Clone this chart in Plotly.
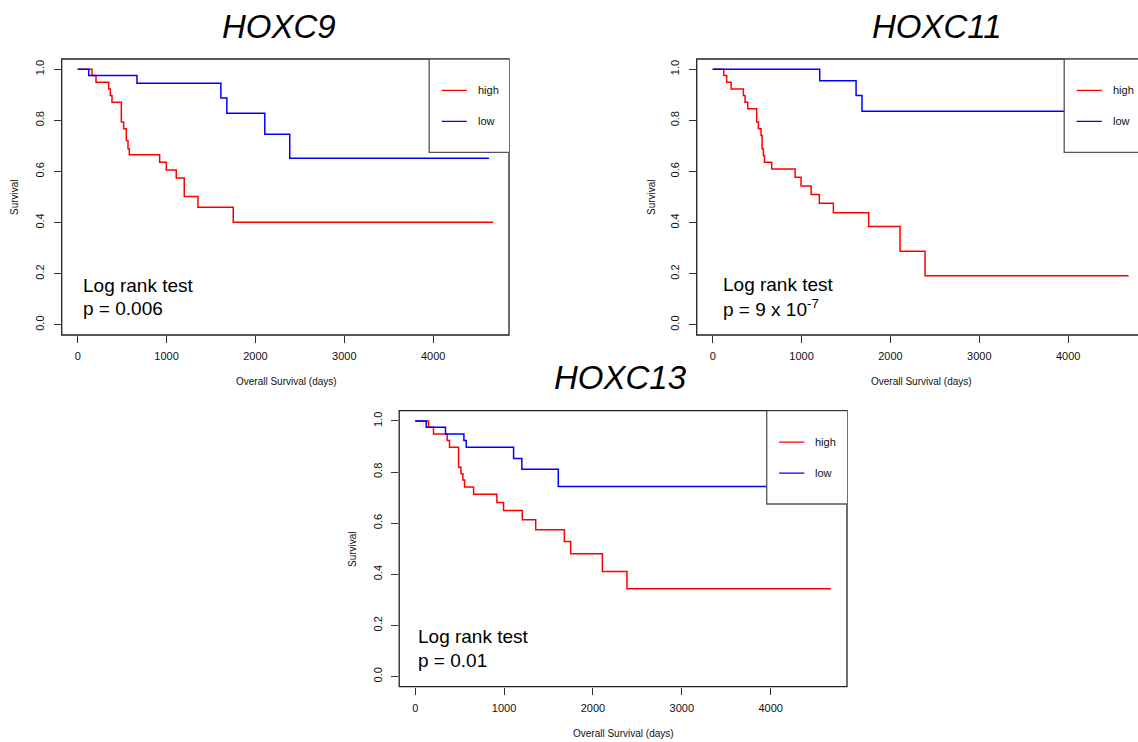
import plotly.graph_objects as go

W, H = 1138, 742

# ---------------- data (Kaplan-Meier steps) ----------------
hoxc9_high_t = [0, 161, 206, 349, 367, 386, 491, 517, 547, 566, 581, 922, 997, 1109, 1199, 1353, 1750, 4674]
hoxc9_high_s = [1.0, 0.975, 0.949, 0.923, 0.897, 0.871, 0.793, 0.767, 0.721, 0.689, 0.665, 0.636, 0.606, 0.574, 0.502, 0.460, 0.401, 0.401]
hoxc9_low_t = [0, 124, 667, 1611, 1678, 2105, 2386, 4628]
hoxc9_low_s = [1.0, 0.975, 0.945, 0.887, 0.828, 0.746, 0.652, 0.652]

hoxc11_high_t = [0, 124, 157, 207, 345, 364, 394, 495, 514, 544, 556, 570, 582, 664, 927, 994, 1107, 1200, 1358, 1755, 2108, 2389, 4680]
hoxc11_high_s = [1.0, 0.975, 0.949, 0.923, 0.897, 0.871, 0.845, 0.793, 0.767, 0.741, 0.689, 0.662, 0.636, 0.610, 0.577, 0.543, 0.510, 0.476, 0.438, 0.385, 0.288, 0.192, 0.192]
hoxc11_low_t = [0, 1204, 1613, 1680, 4650]
hoxc11_low_s = [1.0, 0.955, 0.897, 0.836, 0.836]

hoxc13_high_t = [0, 150, 206, 360, 386, 488, 515, 536, 555, 657, 919, 994, 1205, 1356, 1678, 1749, 2106, 2383, 4677]
hoxc13_high_s = [1.0, 0.975, 0.949, 0.923, 0.897, 0.819, 0.793, 0.769, 0.741, 0.713, 0.681, 0.649, 0.613, 0.574, 0.528, 0.480, 0.411, 0.343, 0.343]
hoxc13_low_t = [0, 124, 341, 548, 574, 1107, 1200, 1610, 4650]
hoxc13_low_s = [1.0, 0.975, 0.949, 0.923, 0.897, 0.853, 0.811, 0.743, 0.743]

gene_titles = ["HOXC9", "HOXC11", "HOXC13"]
p_texts = ["p = 0.006", "p = 9 x 10<sup>-7</sup>", "p = 0.01"]
group_names = ["high", "low"]
group_colors = ["#ff0000", "#0000ff"]
x_tickvals = [0, 1000, 2000, 3000, 4000]
y_tickvals = [0.0, 0.2, 0.4, 0.6, 0.8, 1.0]
y_ticktext = ["0.0", "0.2", "0.4", "0.6", "0.8", "1.0"]
x_label = "Overall Survival (days)"
y_label = "Survival"

# ---------------- layout geometry (window pixels) ----------------
FONT = "Liberation Sans, Arial, Helvetica, sans-serif"
scale = 447.5 / 5035.0  # px per day
XMIN = -180.0
panels = [
    dict(left=61.7, right=509.0, top=59.0, bottom=335.0),
    dict(left=696.7, right=1138.0, top=59.0, bottom=335.0),
    dict(left=399.2, right=847.0, top=410.7, bottom=686.7),
]
curves = [
    ((hoxc9_high_t, hoxc9_high_s), (hoxc9_low_t, hoxc9_low_s)),
    ((hoxc11_high_t, hoxc11_high_s), (hoxc11_low_t, hoxc11_low_s)),
    ((hoxc13_high_t, hoxc13_high_s), (hoxc13_low_t, hoxc13_low_s)),
]


def px(x):
    return x / W


def py(y):
    return 1 - y / H


fig = go.Figure()
annotations = []
shapes = []

title_pos = [(279, 26.0), (937, 26.0), (620, 377.5)]
log_pos = [(80.7, 290.7), (720.7, 290.2), (415.7, 642.4)]
xlab_pos = [(286, 381), (921, 381), (623, 733)]
ylab_pos = [(14, 197), (651, 197), (352, 549)]

for i, p in enumerate(panels):
    k = "" if i == 0 else str(i + 1)
    xa, ya = "x" + k, "y" + k
    xmax = XMIN + (p["right"] - p["left"]) / scale
    for (t, s), name, col in zip(curves[i], group_names, group_colors):
        fig.add_trace(go.Scatter(
            x=t, y=s, mode="lines", line=dict(color=col, width=1.5, shape="hv"),
            name=name, showlegend=False, xaxis=xa, yaxis=ya, hoverinfo="skip"))
    axcommon = dict(showgrid=False, zeroline=False, showline=False, ticks="outside",
                    ticklen=7, tickwidth=1, tickcolor="#333333",
                    tickfont=dict(family=FONT, size=11, color="#111111"))
    fig.layout["xaxis" + k] = dict(
        domain=[px(p["left"]), min(1.0, px(p["right"]))], range=[XMIN, xmax], anchor=ya,
        tickvals=x_tickvals, tickformat="d", ticklabelstandoff=4, **axcommon)
    fig.layout["yaxis" + k] = dict(
        domain=[py(p["bottom"]), py(p["top"])], range=[-0.04, 1.04], anchor=xa,
        tickvals=y_tickvals, ticktext=y_ticktext, tickangle=-90, ticklabelstandoff=5,
        **axcommon)

    # plot frame
    shapes.append(dict(type="rect", xref=xa + " domain", yref=ya + " domain",
                       x0=0, x1=1 if i != 1 else 1.2, y0=0, y1=1,
                       line=dict(color="#222222", width=1.3), layer="above"))
    # legend box (R "topright" style)
    shapes.append(dict(type="rect", xref=xa, yref=ya, x0=3955, x1=6000, y0=0.675, y1=1.04,
                       line=dict(color="#555555", width=1.3), fillcolor="white", layer="above"))
    for j, (name, col) in enumerate(zip(group_names, group_colors)):
        yv = 0.917 - j * 0.121
        shapes.append(dict(type="line", xref=xa, yref=ya, x0=4095, x1=4378, y0=yv, y1=yv,
                           line=dict(color=col, width=1.3), layer="above"))
        annotations.append(dict(xref=xa, yref=ya, x=4480, y=yv, text=name, showarrow=False,
                                xanchor="left", yanchor="middle",
                                font=dict(family=FONT, size=11, color="#111111")))

    # gene title
    tx, ty = title_pos[i]
    annotations.append(dict(xref="paper", yref="paper", x=px(tx), y=py(ty),
                            text="<i>" + gene_titles[i] + "</i>", showarrow=False,
                            xanchor="center", yanchor="middle",
                            font=dict(family=FONT, size=33, color="#000000")))
    # log rank text
    lx, lb = log_pos[i]
    annotations.append(dict(xref="paper", yref="paper", x=px(lx), y=py(lb - 5.5),
                            text="Log rank test", showarrow=False,
                            xanchor="left", yanchor="middle",
                            font=dict(family=FONT, size=19, color="#000000")))
    annotations.append(dict(xref="paper", yref="paper", x=px(lx), y=py(lb + 23.4 - 5.5),
                            text=p_texts[i], showarrow=False,
                            xanchor="left", yanchor="middle",
                            font=dict(family=FONT, size=19, color="#000000")))
    # axis titles
    ax_, ay_ = xlab_pos[i]
    annotations.append(dict(xref="paper", yref="paper", x=px(ax_), y=py(ay_),
                            text=x_label, showarrow=False, xanchor="center", yanchor="middle",
                            font=dict(family=FONT, size=10, color="#111111")))
    bx, by = ylab_pos[i]
    annotations.append(dict(xref="paper", yref="paper", x=px(bx), y=py(by),
                            text=y_label, showarrow=False, textangle=-90,
                            xanchor="center", yanchor="middle",
                            font=dict(family=FONT, size=10, color="#111111")))

fig.update_layout(
    width=W, height=H, margin=dict(l=0, r=0, t=0, b=0),
    paper_bgcolor="white", plot_bgcolor="white",
    showlegend=False, annotations=annotations, shapes=shapes,
)

fig.write_html(
    "out.html",
    config={"displayModeBar": False, "staticPlot": True},
    post_script="document.body.style.margin='0';document.body.style.overflow='hidden';",
)
